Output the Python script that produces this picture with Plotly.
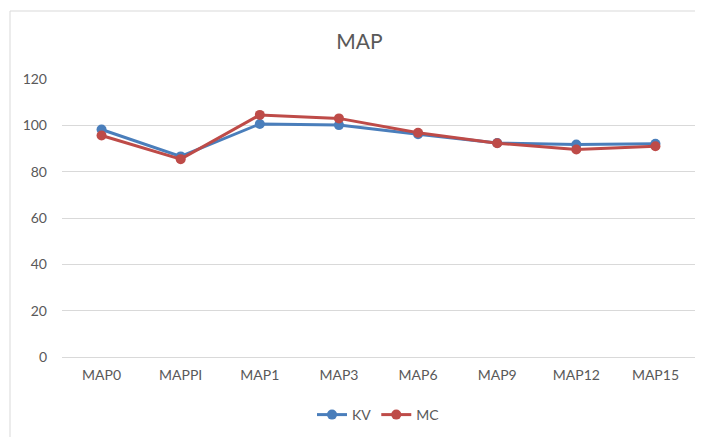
import plotly.graph_objects as go

categories = ["MAP0", "MAPPI", "MAP1", "MAP3", "MAP6", "MAP9", "MAP12", "MAP15"]
kv_values = [98.2, 86.6, 100.6, 100.1, 96.2, 92.4, 91.7, 92.0]
mc_values = [95.6, 85.4, 104.5, 103.0, 96.8, 92.3, 89.6, 91.0]
y_ticks = [0, 20, 40, 60, 80, 100, 120]

FONT = "Lato, 'Open Sans', sans-serif"
GRAY = "#595959"

# page offset of 8px compensated in margins
L, R, T, B = 54, 16, 71, 88
W, H = 703, 437
PW, PH = W - L - R, H - T - B

fig = go.Figure()
fig.add_trace(go.Scatter(x=categories, y=kv_values, name="KV", mode="lines+markers",
                         line=dict(color="#4a7ebb", width=3),
                         marker=dict(color="#4a7ebb", size=10)))
fig.add_trace(go.Scatter(x=categories, y=mc_values, name="MC", mode="lines+markers",
                         line=dict(color="#be4b48", width=3),
                         marker=dict(color="#be4b48", size=10)))

fig.update_layout(
    width=W, height=H,
    margin=dict(l=L, r=R, t=T, b=B),
    paper_bgcolor="white", plot_bgcolor="white",
    title=dict(text="MAP", x=0.5, xanchor="center", y=1 - 34 / H, yanchor="middle",
               font=dict(family=FONT, size=21, color=GRAY)),
    xaxis=dict(type="category", showgrid=False, showline=False, ticks="",
               ticklabelstandoff=8,
               tickfont=dict(family=FONT, size=14, color=GRAY), range=[-0.5, 7.5]),
    yaxis=dict(range=[0, 120], tickvals=y_ticks, showgrid=True, gridcolor="#d9d9d9",
               gridwidth=1, zeroline=True, zerolinecolor="#d9d9d9", zerolinewidth=1,
               showline=False, ticks="", ticklabelstandoff=14,
               tickfont=dict(family=FONT, size=14, color=GRAY)),
    legend=dict(orientation="h", x=0.5, xanchor="center", y=(349 - 407) / PH,
                yanchor="middle",
                font=dict(family=FONT, size=14, color=GRAY)),
    showlegend=True,
    shapes=[dict(type="rect", xref="paper", yref="paper",
                 x0=(2 - L) / PW, x1=1.2, y0=-0.6, y1=1 + (T - 3) / PH,
                 line=dict(color="#d9d9d9", width=1), layer="below")],
)

fig.write_html("out.html")
